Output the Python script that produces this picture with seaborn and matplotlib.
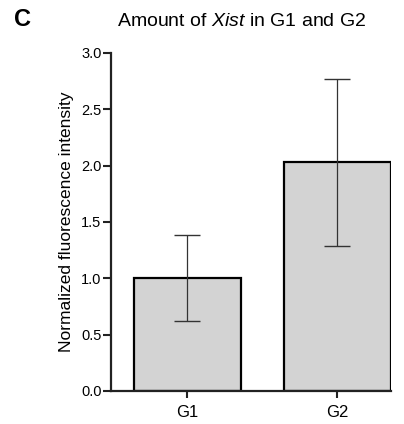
import matplotlib
matplotlib.use('Agg')
import matplotlib.pyplot as plt
import seaborn as sns

# values
groups = ['G1', 'G2']
means = [1.00, 2.03]
err_low = [0.38, 0.74]
err_high = [0.38, 0.74]
yticks = [0.0, 0.5, 1.0, 1.5, 2.0, 2.5, 3.0]

sns.set_style('ticks')
plt.rcParams['font.family'] = ['Liberation Sans', 'DejaVu Sans']
plt.rcParams['mathtext.fontset'] = 'custom'
plt.rcParams['mathtext.rm'] = 'Liberation Sans'
plt.rcParams['mathtext.it'] = 'Liberation Sans:italic'
plt.rcParams['text.color'] = 'black'
plt.rcParams['axes.labelcolor'] = 'black'
plt.rcParams['xtick.labelcolor'] = 'black'
plt.rcParams['ytick.labelcolor'] = 'black'

fig = plt.figure(figsize=(4.04, 4.24), dpi=100)
ax = fig.add_axes([0.275, 0.078, 0.693, 0.797])

sns.barplot(x=groups, y=means, errorbar=None, color='#d3d3d3',
            edgecolor='black', linewidth=1.6, width=0.71, saturation=1, ax=ax)
ax.errorbar(range(len(groups)), means, yerr=[err_low, err_high], fmt='none',
            ecolor='#333333', elinewidth=0.9, capsize=9.7, capthick=1.0)

ax.set_ylim(0, 3.0)
ax.set_xlim(-0.507, 1.357)
ax.set_yticks(yticks)
ax.set_yticklabels([f'{t:.1f}' for t in yticks], fontsize=10.5)
ax.tick_params(axis='x', labelsize=12, length=5, width=1.5, color='#222222', pad=5)
ax.tick_params(axis='y', length=6, width=1.5, color='#222222', pad=1)
ax.set_ylabel('Normalized fluorescence intensity', fontsize=12.5, labelpad=5)
ax.set_xlabel('')
for side in ['left', 'bottom']:
    ax.spines[side].set_linewidth(1.6)
    ax.spines[side].set_color('#222222')
sns.despine(ax=ax)

fig.text(0.597, 0.950, 'Amount of $\\it{Xist}$ in G1 and G2', ha='center', va='center',
         fontsize=14)
fig.text(0.035, 0.955, 'C', ha='left', va='center', fontsize=17, fontweight='bold')

fig.savefig('out.png', dpi=100)
